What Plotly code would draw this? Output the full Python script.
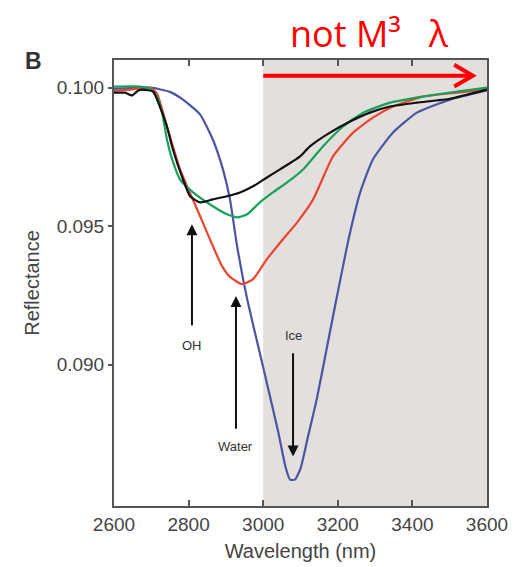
import plotly.graph_objects as go

# ---- data ----
blue_x = [2600, 2697, 2750, 2785, 2831, 2865, 2892, 2911, 2930, 2957, 2999, 3040, 3060, 3072,
          3085, 3100, 3120, 3144, 3179, 3214, 3233, 3260, 3294, 3348, 3412, 3501, 3600]
blue_y = [0.09996, 0.10000, 0.09985, 0.09957, 0.09903, 0.09813, 0.09705, 0.09597, 0.09428,
          0.09237, 0.08996, 0.08759, 0.08630, 0.08585, 0.08585, 0.08625, 0.08740, 0.08878,
          0.09119, 0.09356, 0.09478, 0.09622, 0.09741, 0.09838, 0.09910, 0.09957, 0.09990]

red_x = [2600, 2643, 2697, 2715, 2742, 2777, 2796, 2831, 2865, 2890, 2911, 2943, 2973,
         3010, 3053, 3091, 3134, 3187, 3241, 3294, 3348, 3428, 3520, 3600]
red_y = [0.09989, 0.09993, 0.10000, 0.09980, 0.09860, 0.09705, 0.09644, 0.09536, 0.09428,
         0.09355, 0.09317, 0.09291, 0.09309, 0.09381, 0.09453, 0.09514, 0.09597, 0.09752,
         0.09838, 0.09892, 0.09932, 0.09968, 0.09982, 0.09993]

green_x = [2600, 2670, 2697, 2715, 2729, 2742, 2756, 2777, 2812, 2865, 2903, 2930, 2957,
           2991, 3026, 3064, 3107, 3160, 3214, 3268, 3340, 3428, 3520, 3600]
green_y = [0.10004, 0.10004, 0.09996, 0.09968, 0.09910, 0.09813, 0.09741, 0.09669, 0.09622,
           0.09572, 0.09543, 0.09532, 0.09543, 0.09586, 0.09622, 0.09658, 0.09705, 0.09788,
           0.09860, 0.09910, 0.09946, 0.09968, 0.09986, 0.10000]

black_x = [2600, 2630, 2648, 2665, 2678, 2705, 2723, 2742, 2758, 2785, 2804, 2831, 2865,
           2903, 2938, 2973, 3010, 3045, 3099, 3125, 3179, 3233, 3286, 3340, 3412, 3501, 3600]
black_y = [0.09982, 0.09982, 0.09972, 0.09990, 0.09993, 0.09986, 0.09932, 0.09860, 0.09777,
           0.09669, 0.09608, 0.09586, 0.09597, 0.09608, 0.09622, 0.09644, 0.09676, 0.09705,
           0.09752, 0.09788, 0.09838, 0.09878, 0.09910, 0.09932, 0.09946, 0.09960, 0.09993]

x_ticks = [2600, 2800, 3000, 3200, 3400, 3600]
y_ticks = [0.090, 0.095, 0.100]
y_tick_labels = ["0.090", "0.095", "0.100"]

# annotation arrows (label, x, label_y, tail_y, tip_y)
arrow_labels = ["OH", "Water", "Ice"]
arrow_x = [2809, 2927, 3080]
arrow_label_y = [0.09068, 0.08705, 0.09104]
arrow_tail_y = [0.09137, 0.08763, 0.09047]
arrow_tip_y = [0.09507, 0.09248, 0.08669]

BLUE = "#4c55a3"
RED = "#ea4530"
GREEN = "#17a05a"
BLACK = "#111111"
AXIS = "#555555"
FONT = "Liberation Sans"

fig = go.Figure()

# shaded region beyond 3000 nm
fig.add_shape(type="rect", xref="x", yref="paper", x0=3000, x1=3600, y0=0, y1=1,
              fillcolor="#e2dfdc", line_width=0, layer="below")

for xs, ys, c in [(blue_x, blue_y, BLUE), (red_x, red_y, RED),
                  (green_x, green_y, GREEN), (black_x, black_y, BLACK)]:
    fig.add_trace(go.Scatter(x=xs, y=ys, mode="lines",
                             line=dict(color=c, width=2.2, shape="spline", smoothing=0.5),
                             showlegend=False, hoverinfo="skip"))

for lab, x, ly, ty, hy in zip(arrow_labels, arrow_x, arrow_label_y, arrow_tail_y, arrow_tip_y):
    fig.add_annotation(x=x, y=hy, ax=x, ay=ty, xref="x", yref="y", axref="x", ayref="y",
                       text="", showarrow=True, arrowhead=2, arrowsize=1.1, arrowwidth=2,
                       arrowcolor="#111111")
    fig.add_annotation(x=x, y=ly, xref="x", yref="y", text=lab, showarrow=False,
                       font=dict(family=FONT, size=13, color="#333333"))

# red "not M3 lambda" arrow
fig.add_shape(type="line", xref="x", yref="y", x0=3000, x1=3558, y0=0.10043, y1=0.10043,
              line=dict(color="#ff0000", width=4))
fig.add_shape(type="path", xref="x", yref="y",
              path="M 3512,0.10083 L 3562,0.10043 L 3512,0.10004",
              line=dict(color="#ff0000", width=4))
fig.add_annotation(xref="x", yref="paper", x=3285, y=1, yshift=27, yanchor="middle",
                   text="not M³&nbsp;&nbsp;&nbsp;λ", showarrow=False,
                   font=dict(family="Open Sans", size=36, color="#ff0000"))

fig.add_annotation(xref="paper", yref="paper", x=-0.215, y=1, yshift=-1, xanchor="center",
                   yanchor="middle", text="<b>B</b>", showarrow=False,
                   font=dict(family=FONT, size=23, color="#333333"))

fig.update_xaxes(range=[2600, 3600], tickvals=x_ticks, ticks="inside", ticklen=6,
                 tickwidth=1.5, tickcolor=AXIS, showline=True, linecolor=AXIS, linewidth=2,
                 mirror="ticks", showgrid=False, zeroline=False, automargin=False,
                 tickfont=dict(family=FONT, size=19, color="#444444"),
                 title=dict(text="Wavelength (nm)", font=dict(family=FONT, size=20, color="#444444"),
                            standoff=10))
fig.update_yaxes(range=[0.0849, 0.101], tickvals=y_ticks, ticktext=y_tick_labels,
                 ticks="outside", ticklen=4, tickwidth=1.5, tickcolor=AXIS, showline=True,
                 linecolor=AXIS, linewidth=2, mirror=True, showgrid=False, zeroline=False,
                 automargin=False,
                 tickfont=dict(family=FONT, size=19, color="#444444"),
                 title=dict(text="Reflectance", font=dict(family=FONT, size=20, color="#444444"),
                            standoff=12))

# page body has an 8px margin, so the figure is sized/offset to compensate
fig.update_layout(width=521, height=559, margin=dict(l=106, r=42, t=52, b=61),
                  plot_bgcolor="white", paper_bgcolor="white")

fig.write_html("out.html")
